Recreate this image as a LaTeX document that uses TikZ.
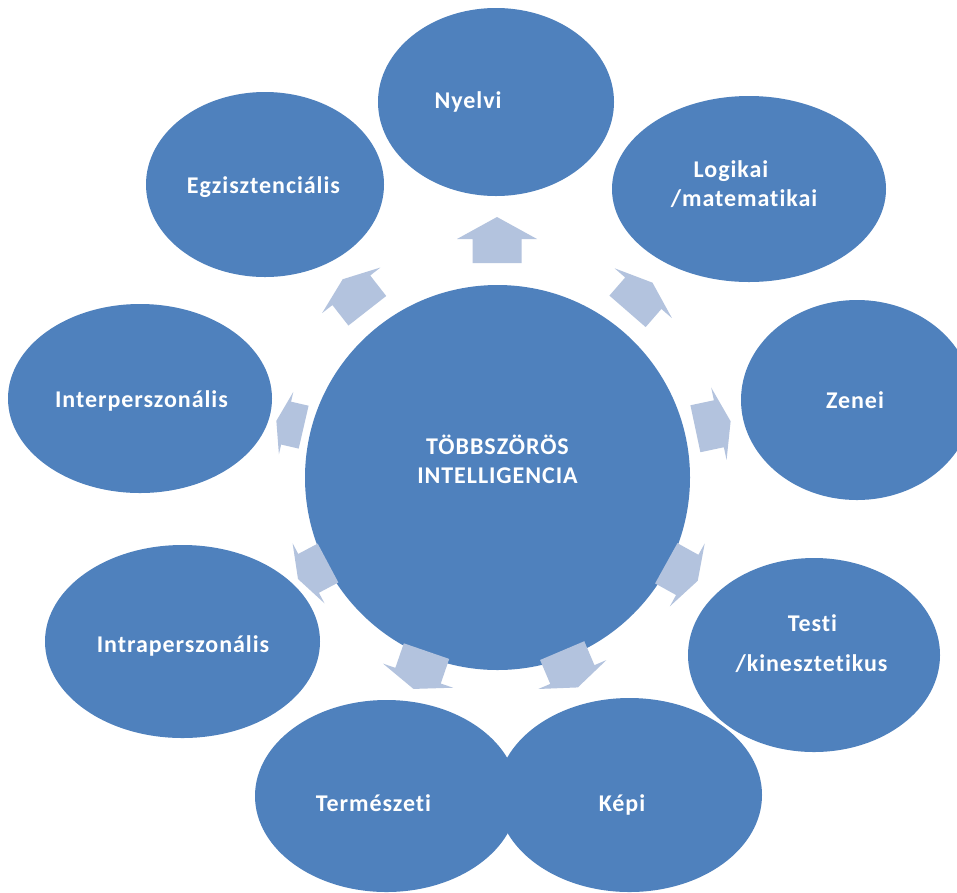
\documentclass[tikz,border=0pt]{standalone}
\usepackage{fontspec}
\setmainfont{Carlito}[LetterSpace=4, Ligatures=NoCommon]
\definecolor{satblue}{HTML}{4F81BD}
\definecolor{arrowfill}{HTML}{B3C3DE}
\tikzset{
  sat/.style={ellipse, fill=satblue, inner sep=0pt},
  lbl/.style={text=white, font=\fontsize{24}{29}\selectfont\bfseries, anchor=base, inner sep=0pt},
}
\usetikzlibrary{shapes.geometric}
% name, x, y, screen angle (math, y up), length, head length, half width, half head width
\newcommand\blockarr[8]{%
  \begin{scope}[shift={(#2,#3)}, rotate=#4]
    \fill[arrowfill] (-#5/2,-#7) -- (#5/2-#6,-#7) -- (#5/2-#6,-#8) -- (#5/2,0)
      -- (#5/2-#6,#8) -- (#5/2-#6,#7) -- (-#5/2,#7) -- cycle;
    \coordinate (#1) at (0,0);
  \end{scope}}
\begin{document}
\begin{tikzpicture}[x=1pt,y=-1pt]
\useasboundingbox (0,0) rectangle (957,892);
\fill[white] (0,0) rectangle (957,892);
% satellites
\node[sat, minimum width=236, minimum height=188] (nyelvi) at (496,102) {};
\node[sat, minimum width=238, minimum height=185] (egz) at (265,184.5) {};
\node[sat, minimum width=274, minimum height=186] (logikai) at (749,189) {};
\node[sat, minimum width=264, minimum height=189] (inter) at (140,398.5) {};
\node[sat, minimum width=232, minimum height=200] (zenei) at (857,400) {};
\node[sat, minimum width=275, minimum height=193] (intra) at (182.5,641.5) {};
\node[sat, minimum width=252, minimum height=194] (testi) at (814,655) {};
\node[sat, minimum width=263, minimum height=192] (term) at (386.5,796) {};
\node[sat, minimum width=265, minimum height=194] (kepi) at (629.5,795) {};
% center
\node[circle, fill=satblue, minimum size=385, inner sep=0pt] (center) at (497.5,477.5) {};
% arrows
\blockarr{a1}{497}{240}{90}{46}{22}{24.5}{40}
\blockarr{a2}{640}{297}{49}{38}{14}{24}{38}
\blockarr{a3}{713}{425}{12}{36}{12}{24}{37}
\blockarr{a4}{682}{572}{-29}{36}{12}{23}{36}
\blockarr{a5}{570}{669}{-67}{40}{14}{24}{37}
\blockarr{a6}{420}{670}{-109}{40}{14}{24}{37}
\blockarr{a7}{313}{571}{-152}{34}{12}{22}{34}
\blockarr{a8}{290}{424}{167}{28}{10}{22}{32}
\blockarr{a9}{355}{295}{128}{40}{14}{24}{37}
% labels
\node[lbl] (t-nyelvi) at (468,108) {Nyelvi};
\node[lbl] (t-logikai1) at (731,177) {Logikai};
\node[lbl] (t-logikai2) at (744,206.5) {/matematikai};
\node[lbl] (t-egz) at (263.5,193) {Egzisztenciális};
\node[lbl] (t-zenei) at (855,408) {Zenei};
\node[lbl] (t-inter) at (141.5,407) {Interperszonális};
\node[lbl] (t-center1) at (497.5,454.5) {TÖBBSZÖRÖS};
\node[lbl] (t-center2) at (497.5,483) {INTELLIGENCIA};
\node[lbl] (t-intra) at (183,652) {Intraperszonális};
\node[lbl] (t-testi1) at (812.5,631) {Testi};
\node[lbl] (t-testi2) at (811.5,671) {/kinesztetikus};
\node[lbl] (t-term) at (373.5,811) {Természeti};
\node[lbl] (t-kepi) at (622,811) {Képi};
\end{tikzpicture}
\end{document}
